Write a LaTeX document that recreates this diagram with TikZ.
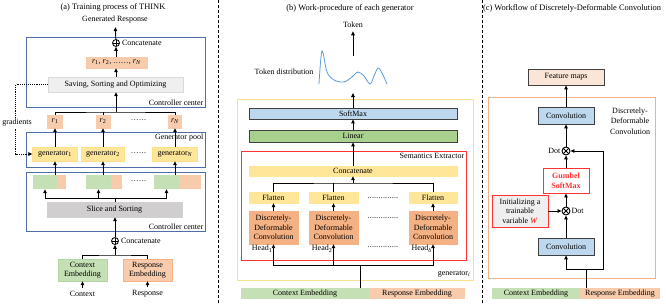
\documentclass[tikz,border=0pt]{standalone}
\usepackage{fontspec}
\setmainfont{Liberation Serif}
\usetikzlibrary{arrows.meta,positioning,fit}
\definecolor{cframe}{HTML}{4F6EA8}
\definecolor{cgreen}{HTML}{C5E0B4}
\definecolor{cgreenline}{HTML}{B4D6A0}
\definecolor{corange}{HTML}{F8CBAD}
\definecolor{cddc}{HTML}{F4B183}
\definecolor{cyellow}{HTML}{FFE699}
\definecolor{cyellowline}{HTML}{FFE08A}
\definecolor{cgray}{HTML}{D0CECE}
\definecolor{cgraylight}{HTML}{EFEFEF}
\definecolor{cgrayline}{HTML}{D9D9D9}
\definecolor{cblue}{HTML}{BDD7EE}
\definecolor{ccurve}{HTML}{5B9BD5}
\definecolor{clinear}{HTML}{A9D18E}
\definecolor{cpeach}{HTML}{FBE5D6}
\definecolor{cred}{HTML}{FF3333}
\definecolor{cdark}{HTML}{404040}
\newcommand{\dotrow}[2]{\foreach \k in {1,...,#1}{.\kern#2}}

\begin{document}
\begin{tikzpicture}[
        x=1pt, y=-1pt,
        font=\fontsize{8}{9.5}\selectfont,
        title/.style={font=\fontsize{8.4}{10}\selectfont},
        box/.style={rectangle, draw, inner sep=0pt, align=center},
        wh/.style 2 args={minimum width=#1pt, minimum height=#2pt},
        frame/.style={rectangle, draw=cframe, line width=1pt, inner sep=0pt},
        arr/.style={-{Triangle[length=4pt,width=3.6pt]}, line width=0.9pt},
        ln/.style={line width=0.9pt},
        sep/.style={dash pattern=on 3pt off 2pt, line width=0.8pt},
        oplus/.style={circle, draw, line width=0.8pt, minimum size=7pt, inner sep=0pt,
                      path picture={\draw[line width=0.8pt]
                        (path picture bounding box.north) -- (path picture bounding box.south)
                        (path picture bounding box.west) -- (path picture bounding box.east);}},
        otimes/.style={circle, draw, line width=0.9pt, minimum size=8pt, inner sep=0pt,
                      path picture={\draw[line width=0.9pt]
                        (path picture bounding box.north west) -- (path picture bounding box.south east)
                        (path picture bounding box.south west) -- (path picture bounding box.north east);}},
        lbl/.style={inner sep=1pt}
      ]
      \useasboundingbox (0,0) rectangle (666,303);

      % (a)
      \node[title] (titleA) at (113,7) {(a) Training process of THINK};
      \node (genresp) at (115,20) {Generated Response};
      \node[frame, fit={(26,37) (205,107)}] (ctrlA) {};
      \node[lbl, anchor=south east, inner sep=2pt] (ctrlAlbl) at (ctrlA.south east) {Controller center};
      \node[oplus] (sumA) at (116,43) {};
      \node[lbl, right=1pt of sumA] (catA) {Concatenate};
      \node[box, draw=corange, fill=corange, wh={61}{11}] (rlist) at (116.5,62.5)
        {\textit{r}\textsubscript{1}, \textit{r}\textsubscript{2}, \dotrow{6}{0.6pt}, \textit{r}\textsubscript{\textit{N}}};
      \node[box, draw=cgrayline, fill=cgraylight, wh={135}{15}] (saving) at (115.5,84.5) {Saving, Sorting and Optimizing};

      \node[box, draw=corange, fill=corange, wh={15}{13}] (r1) at (55,121.5) {\textit{r}\textsubscript{1}};
      \node[box, draw=corange, fill=corange, wh={14}{13}] (r2) at (103,121.5) {\textit{r}\textsubscript{2}};
      \node[box, draw=corange, fill=corange, wh={13}{13}] (rN) at (175,121.5) {\textit{r}\textsubscript{\textit{N}}};
      \node (rdots) at (139,120) {\dotrow{6}{0.6pt}};

      \node[frame, fit={(26,132) (205,167)}] (pool) {};
      \node[lbl, anchor=north east, inner sep=2pt] (poollbl) at (pool.north east) {Generator pool};
      \node[box, draw=cyellowline, fill=cyellow, wh={45}{14}] (gen1) at (55,154) {generator\textsubscript{1}};
      \node[box, draw=cyellowline, fill=cyellow, wh={43}{14}] (gen2) at (103,154) {generator\textsubscript{2}};
      \node[box, draw=cyellowline, fill=cyellow, wh={45}{14}] (genN) at (175,154) {generator\textsubscript{\textit{N}}};
      \node (gdots) at (139,153) {\dotrow{6}{0.6pt}};

      \node[frame, fit={(26,172) (205,231)}] (ctrlB) {};
      \node[lbl, anchor=south east, inner sep=2pt] (ctrlBlbl) at (ctrlB.south east) {Controller center};
      \node[box, draw=none, fill=cgreen, fit={(33,175) (57,189)}] (s1a) {};
      \node[box, draw=none, fill=corange, fit={(57,175) (66,189)}] (s1b) {};
      \node[box, draw=none, fill=cgreen, fit={(86,175) (111,189)}] (s2a) {};
      \node[box, draw=none, fill=corange, fit={(111,175) (122,189)}] (s2b) {};
      \node[box, draw=none, fill=cgreen, fit={(154,175) (179,189)}] (s3a) {};
      \node[box, draw=none, fill=corange, fit={(179,175) (201,189)}] (s3b) {};
      \node (sdots) at (139,181) {\dotrow{6}{0.6pt}};
      \node[box, draw=cgray, fill=cgray, wh={135}{15}] (slice) at (114.5,209.5) {Slice and Sorting};
      \node[oplus] (sumB) at (115,241) {};
      \node[lbl, right=1pt of sumB] (catB) {Concatenate};
      \node[box, draw=cgreenline, fill=cgreen, wh={49}{22}] (ctx) at (82.5,270) {Context\\Embedding};
      \node[box, draw=cddc, fill=corange, wh={49}{22}] (rsp) at (147.5,270) {Response\\Embedding};
      \node (ctxin) at (82.5,294) {Context};
      \node (rspin) at (147.5,294) {Response};

      \coordinate (jB) at (115,255);
      \coordinate (jS) at (115,198);
      \coordinate (jR) at (116,112);
      \draw[arr] (ctxin) -- (ctx);
      \draw[arr] (rspin) -- (rsp);
      \draw[ln] (ctx.north) |- (jB) -| (rsp.north);
      \draw[arr] (jB) -- (sumB);
      \draw[arr] (sumB) -- (sumB |- slice.south);
      \draw[ln] (slice.north -| jS) -- (jS);
      \draw[arr] (jS) -| (s1a.south);
      \draw[arr] (jS) -| (s2a.south);
      \draw[arr] (jS) -| (s3a.south);
      \draw[arr] (gen1.south |- s1a.north) -- (gen1.south);
      \draw[arr] (gen2.south |- s2a.north) -- (gen2.south);
      \draw[arr] (genN.south |- s3a.north) -- (genN.south);
      \draw[arr] (gen1) -- (r1);
      \draw[arr] (gen2) -- (r2);
      \draw[arr] (genN) -- (rN);
      \draw[ln] (r1.north) |- (jR) -| (rN.north);
      \draw[ln] (r2.north) -- (r2.north |- jR);
      \draw[arr] (jR) -- (saving.south -| jR);
      \draw[arr] (saving.north -| sumA) -- (rlist.south -| sumA);
      \draw[arr] (rlist.north -| sumA) -- (sumA);
      \draw[arr] (sumA) -- (genresp);
      \draw[arr, densely dotted, line width=0.7pt] (saving.west) -- ++(-32,0) |- (gen1.west);
      \node[fill=white, inner sep=1pt] (grad) at (17,123) {gradients};

      \draw[sep] (218,0) -- (218,303);
      \draw[sep] (482,0) -- (482,303);

      % (b)
      \node[title] (titleB) at (350,8) {(b) Work-procedure of each generator};
      \node (token) at (353,25) {Token};
      \coordinate (distTop) at (353,56);
      \coordinate (distBot) at (353,93);
      \draw[ccurve, line width=0.8pt] plot[smooth, tension=0.55] coordinates {(319,84) (322,51) (327,72) (334,80) (344,82) (352,77) (358,72) (364,76) (370,84) (374,76) (378,68) (382,73) (387,84)};
      \node[anchor=east] (tokdist) at (317,72) {Token distribution};
      \node[frame, draw=cyellowline, fit={(237,99) (473,280)}] (genbox) {};
      \node[lbl, anchor=south east, inner sep=3pt] (genlbl) at (genbox.south east) {generator\textsubscript{\textit{i}}};
      \node[box, draw=cdark, fill=cblue, line width=0.8pt, wh={208}{11}] (softmax) at (353,113.5) {SoftMax};
      \node[box, draw=cdark, fill=clinear, line width=0.8pt, wh={208}{12}] (linear) at (353,136) {Linear};
      \node[frame, draw=cred, line width=0.8pt, fit={(241,151) (466,260)}] (sem) {};
      \node[lbl, anchor=north east, inner sep=2pt] (semlbl) at (sem.north east) {Semantics Extractor};
      \node[box, draw=cyellow, fill=cyellow, wh={208}{10}] (concat) at (353,171) {Concatenate};
      \node[box, draw=cyellow, fill=cyellow, wh={49}{11}] (flat1) at (273.5,197.5) {Flatten};
      \node[box, draw=cyellow, fill=cyellow, wh={49}{11}] (flat2) at (333.5,197.5) {Flatten};
      \node[box, draw=cyellow, fill=cyellow, wh={48}{11}] (flat3) at (433,197.5) {Flatten};
      \node[box, draw=cddc, fill=cddc, wh={49}{33}] (ddc1) at (273.5,227.5) {Discretely-\\Deformable\\Convolution};
      \node[box, draw=cddc, fill=cddc, wh={49}{33}] (ddc2) at (333.5,227.5) {Discretely-\\Deformable\\Convolution};
      \node[box, draw=cddc, fill=cddc, wh={48}{33}] (ddc3) at (433,227.5) {Discretely-\\Deformable\\Convolution};
      \node (fdots) at (383,198) {\dotrow{14}{0.2pt}};
      \node (ddots) at (383,218) {\dotrow{14}{0.2pt}};
      \node (hdots) at (383,247) {\dotrow{14}{0.2pt}};
      \node[lbl, anchor=north east] (head1) at (ddc1.south) {Head\textsubscript{1}};
      \node[lbl, anchor=north east] (head2) at (ddc2.south) {Head\textsubscript{2}};
      \node[lbl, anchor=north east] (head3) at (ddc3.south) {Head\textsubscript{δ}};
      \node[box, draw=none, fill=cgreen, wh={128}{11}] (ctxB) at (305,293.5) {Context Embedding};
      \node[box, draw=none, fill=corange, wh={96}{11}] (rspB) at (417,293.5) {Response Embedding};

      \coordinate (jH) at (360,265);
      \coordinate (jF) at (353,183);
      \draw[ln] (ctxB.north -| jH) -- (jH);
      \draw[arr] (jH) -| (ddc1.south);
      \draw[arr] (jH) -| (ddc2.south);
      \draw[arr] (jH) -| (ddc3.south);
      \draw[arr] (ddc1) -- (flat1);
      \draw[arr] (ddc2) -- (flat2);
      \draw[arr] (ddc3) -- (flat3);
      \draw[ln] (flat1.north) |- (jF) -| (flat3.north);
      \draw[ln] (flat2.north) -- (flat2.north |- jF);
      \draw[arr] (jF) -- (concat.south -| jF);
      \draw[arr] (concat) -- (linear);
      \draw[arr] (linear) -- (softmax);
      \draw[arr] (softmax) -- (distBot);
      \draw[arr] (distTop) -- (token);

      % (c)
      \node[title] (titleC) at (572,8) {(c) Workflow of Discretely-Deformable Convolution};
      \node[box, draw=cdark, fill=cpeach, line width=0.8pt, wh={76}{16}] (feat) at (566,77) {Feature maps};
      \node[frame, draw=cddc, line width=0.8pt, fit={(488,97) (655,278)}] (ddcbox) {};
      \node[align=center, font=\fontsize{8}{10.5}\selectfont] (ddclbl) at (630,121) {Discretely-\\Deformable\\Convolution};
      \node[box, draw=cdark, fill=cblue, line width=0.8pt, wh={56}{17}] (conv1) at (566,115.5) {Convolution};
      \node[otimes] (dot1) at (566,151) {};
      \node[lbl, anchor=east] (dot1lbl) at (dot1.west) {Dot};
      \node[box, draw=cred, fill=white, line width=0.9pt, text=cred, font=\fontsize{8}{10}\selectfont\bfseries, wh={46}{25}] (gumbel) at (566,180.5) {Gumbel\\SoftMax};
      \node[otimes] (dot2) at (566,211) {};
      \node[lbl, anchor=west] (dot2lbl) at (dot2.east) {Dot};
      \node[box, draw=cred, fill=cgraylight, line width=0.9pt, wh={56}{32}] (init) at (520,211)
        {Initializing a\\trainable\\variable \textcolor{cred}{\textbf{\textit{W}}}};
      \node[box, draw=cdark, fill=cblue, line width=0.8pt, wh={56}{17}] (conv2) at (566,246.5) {Convolution};
      \node[box, draw=none, fill=cgreen, wh={88}{11}] (ctxC) at (536,293.5) {Context Embedding};
      \node[box, draw=none, fill=corange, wh={80}{11}] (rspC) at (620,293.5) {Response Embedding};

      \coordinate (jC) at (586,269);
      \coordinate (bypass) at (603,269);
      \draw[ln] (rspC.north -| jC) -- (jC);
      \draw[arr] (jC) -| (conv2.south);
      \draw[arr] (jC) -- (bypass) |- (dot1);
      \draw[arr] (conv2) -- (dot2);
      \draw[arr] (init) -- (dot2);
      \draw[arr] (dot2) -- (gumbel);
      \draw[arr] (gumbel) -- (dot1);
      \draw[arr] (dot1) -- (conv1);
      \draw[arr] (conv1) -- (feat);
    \end{tikzpicture}
\end{document}
